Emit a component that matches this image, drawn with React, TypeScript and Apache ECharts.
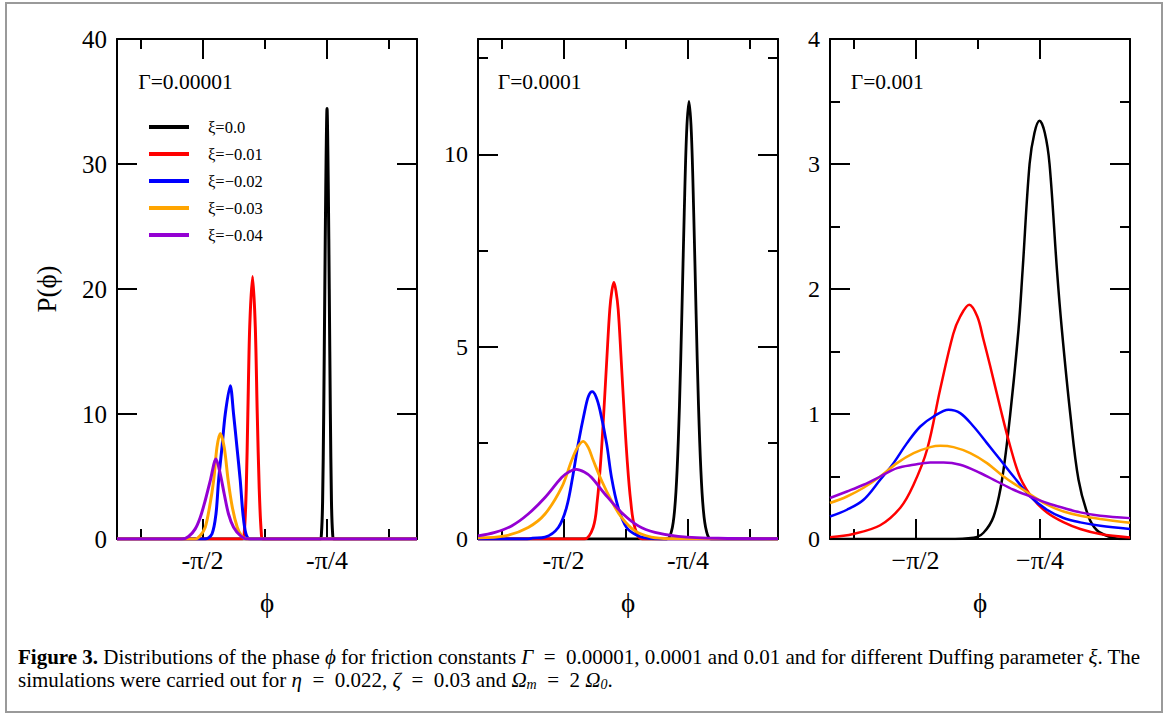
import React, { useEffect, useRef } from "react";
import * as echarts from "echarts";

const SERIF = '"Liberation Serif", "Times New Roman", Times, serif';

// x axis range (radians) shared by all three panels
const X_MIN = -2.111;
const X_MAX = -0.217;
const xMajorTicks = [-Math.PI / 2, -Math.PI / 4];
const xMinorTicksP12 = [(-5 * Math.PI) / 8, (-3 * Math.PI) / 8, -Math.PI / 8];
const xMinorTicksP3 = [(-5 * Math.PI) / 8, (-3 * Math.PI) / 8];
const xTickLabelsP12 = ["-π/2", "-π/4"];
const xTickLabelsP3 = ["−π/2", "−π/4"];

const yMax = [40, 13, 4];
const yMajorTicks = [[0, 10, 20, 30, 40], [0, 5, 10], [0, 1, 2, 3, 4]];
const yMinorTicks = [[], [2.5, 7.5, 12.5], [0.5, 1.5, 2.5, 3.5]];

const gammaLabels = ["Γ=0.00001", "Γ=0.0001", "Γ=0.001"];
const seriesNames = ["ξ=0.0", "ξ=−0.01", "ξ=−0.02", "ξ=−0.03", "ξ=−0.04"];
const seriesColors = ["#000000", "#ff0000", "#0000ff", "#ffa500", "#9400d3"];

// ---------- Panel 1 : Γ = 0.00001 ----------
const p1Black = [[-2.111, 0], [-0.829, 0], [-0.82, 0.5], [-0.813, 3], [-0.806, 10], [-0.799, 20], [-0.793, 28], [-0.785, 34.45], [-0.777, 28], [-0.771, 20], [-0.764, 10], [-0.757, 3], [-0.75, 0.5], [-0.741, 0], [-0.217, 0]];
const p1Red = [[-2.111, 0], [-1.32, 0], [-1.3075, 0.5], [-1.295, 4], [-1.285, 10], [-1.273, 17], [-1.255, 21], [-1.238, 17], [-1.2255, 10], [-1.213, 4], [-1.2, 0.5], [-1.188, 0], [-0.217, 0]];
const p1Blue = [[-2.111, 0], [-1.554, 0], [-1.5115, 0.4], [-1.4862, 2.0], [-1.4698, 4.67], [-1.4483, 7.33], [-1.4275, 10], [-1.3959, 12.26], [-1.3751, 10], [-1.3536, 7.33], [-1.3328, 4.67], [-1.3158, 2.0], [-1.2968, 0.4], [-1.27, 0], [-0.217, 0]];
const p1Orange = [[-2.111, 0], [-1.617, 0], [-1.585, 0.28], [-1.554, 0.94], [-1.527, 2.54], [-1.501, 4.67], [-1.48, 7.33], [-1.459, 8.45], [-1.434, 7.33], [-1.409, 4.67], [-1.383, 2.54], [-1.352, 0.94], [-1.326, 0.28], [-1.295, 0], [-0.217, 0]];
const p1Purple = [[-2.111, 0], [-1.701, 0], [-1.659, 0.2], [-1.617, 0.81], [-1.585, 1.74], [-1.554, 3.08], [-1.522, 4.67], [-1.486, 6.41], [-1.459, 5.2], [-1.434, 3.6], [-1.407, 2.0], [-1.375, 0.94], [-1.333, 0.28], [-1.291, 0], [-0.217, 0]];

// ---------- Panel 2 : Γ = 0.0001 ----------
const p2Black = [[-2.111, 0], [-0.92, 0], [-0.889, 0.21], [-0.869, 0.79], [-0.854, 1.79], [-0.839, 3.48], [-0.824, 5.85], [-0.809, 8.46], [-0.794, 10.57], [-0.779, 11.38], [-0.764, 10.57], [-0.749, 8.46], [-0.734, 5.85], [-0.719, 3.48], [-0.704, 1.79], [-0.689, 0.79], [-0.669, 0.21], [-0.64, 0], [-0.217, 0]];
const p2Red = [[-2.111, 0], [-1.44, 0], [-1.384, 0.3], [-1.358, 0.99], [-1.336, 2.04], [-1.316, 3.35], [-1.298, 4.66], [-1.279, 5.97], [-1.266, 6.45], [-1.253, 6.67], [-1.24, 6.45], [-1.226, 5.97], [-1.207, 4.66], [-1.189, 3.35], [-1.169, 2.04], [-1.147, 0.99], [-1.121, 0.3], [-1.074, 0], [-0.217, 0]];
const p2Blue = [[-2.111, 0], [-1.8, 0], [-1.768, 0.02], [-1.688, 0.05], [-1.604, 0.3], [-1.552, 0.82], [-1.514, 1.6], [-1.478, 2.48], [-1.436, 3.35], [-1.413, 3.72], [-1.39, 3.83], [-1.366, 3.7], [-1.341, 3.35], [-1.299, 2.48], [-1.268, 1.6], [-1.226, 0.82], [-1.173, 0.3], [-1.099, 0.08], [-1.017, 0.01], [-0.95, 0], [-0.217, 0]];
const p2Orange = [[-2.111, 0.03], [-1.939, 0.08], [-1.794, 0.3], [-1.688, 0.65], [-1.583, 1.34], [-1.52, 2.04], [-1.483, 2.38], [-1.447, 2.54], [-1.415, 2.38], [-1.383, 2.04], [-1.331, 1.52], [-1.268, 0.99], [-1.205, 0.56], [-1.12, 0.21], [-1.017, 0.05], [-0.9, 0.01], [-0.217, 0]];
const p2Purple = [[-2.111, 0.08], [-2.004, 0.17], [-1.899, 0.34], [-1.794, 0.65], [-1.688, 1.08], [-1.583, 1.6], [-1.535, 1.75], [-1.489, 1.81], [-1.44, 1.74], [-1.394, 1.6], [-1.31, 1.17], [-1.205, 0.69], [-1.099, 0.34], [-0.994, 0.17], [-0.847, 0.07], [-0.594, 0.02], [-0.217, 0.01]];

// ---------- Panel 3 : Γ = 0.001 ----------
const p3Black = [[-2.111, 0], [-1.373, 0], [-1.205, 0.01], [-1.142, 0.05], [-1.078, 0.18], [-1.025, 0.474], [-0.973, 1.0], [-0.921, 1.673], [-0.895, 2.15], [-0.851, 3.0], [-0.82, 3.25], [-0.788, 3.346], [-0.755, 3.25], [-0.725, 3.0], [-0.678, 2.15], [-0.647, 1.673], [-0.594, 1.0], [-0.542, 0.474], [-0.479, 0.18], [-0.426, 0.07], [-0.352, 0.02], [-0.278, 0], [-0.217, 0]];
const p3Red = [[-2.111, 0.015], [-1.964, 0.04], [-1.794, 0.11], [-1.667, 0.25], [-1.585, 0.43], [-1.497, 0.72], [-1.415, 1.2], [-1.333, 1.64], [-1.289, 1.78], [-1.232, 1.875], [-1.181, 1.78], [-1.143, 1.6], [-1.099, 1.38], [-1.036, 1.05], [-0.973, 0.74], [-0.91, 0.49], [-0.828, 0.32], [-0.739, 0.21], [-0.638, 0.135], [-0.531, 0.08], [-0.405, 0.04], [-0.217, 0.012]];
const p3Blue = [[-2.111, 0.18], [-2.004, 0.234], [-1.899, 0.314], [-1.794, 0.474], [-1.71, 0.607], [-1.625, 0.767], [-1.541, 0.9], [-1.457, 0.98], [-1.3625, 1.034], [-1.289, 1.007], [-1.2046, 0.9], [-1.12, 0.767], [-1.036, 0.634], [-0.9521, 0.5], [-0.8467, 0.34], [-0.7413, 0.234], [-0.6365, 0.168], [-0.531, 0.133], [-0.405, 0.106], [-0.217, 0.08]];
const p3Orange = [[-2.111, 0.288], [-2.004, 0.34], [-1.899, 0.41], [-1.794, 0.5], [-1.688, 0.607], [-1.583, 0.687], [-1.478, 0.735], [-1.415, 0.746], [-1.331, 0.735], [-1.2255, 0.687], [-1.12, 0.607], [-1.0152, 0.5], [-0.9098, 0.41], [-0.8258, 0.34], [-0.7413, 0.274], [-0.6365, 0.22], [-0.531, 0.186], [-0.405, 0.16], [-0.217, 0.13]];
const p3Purple = [[-2.111, 0.328], [-2.004, 0.38], [-1.899, 0.434], [-1.794, 0.5], [-1.688, 0.567], [-1.583, 0.594], [-1.478, 0.613], [-1.394, 0.613], [-1.289, 0.594], [-1.1623, 0.528], [-1.0569, 0.46], [-0.9521, 0.394], [-0.8467, 0.34], [-0.7413, 0.288], [-0.6365, 0.248], [-0.531, 0.213], [-0.405, 0.186], [-0.217, 0.167]];

const panelData = [
  [p1Black, p1Red, p1Blue, p1Orange, p1Purple],
  [p2Black, p2Red, p2Blue, p2Orange, p2Purple],
  [p3Black, p3Red, p3Blue, p3Orange, p3Purple],
];

const EQ = "\u2002=\u2002";
const captionLine1 =
  "{b|Figure 3.} Distributions of the phase {i|ϕ} for friction constants {i|Γ}" + EQ +
  "0.00001, 0.0001 and 0.01 and for different Duffing parameter {i|ξ}. The";
const captionLine2 =
  "simulations were carried out for {i|η}" + EQ + "0.022, {i|ζ}" + EQ + "0.03 and {i|Ω}{s|m}" + EQ + "2 {i|Ω}{s|0}.";

function buildOption() {
  const gridLefts = [117, 478, 830];
  const gridTop = 39;
  const gridW = 300;
  const gridH = 500;
  const lineWidths = [3, 2.8, 2.5];
  const smoothness = [0.3, 0.35, 0.35];
  const yLabelSize = [25, 24, 24];

  const axisLine = { show: true, onZero: false, lineStyle: { color: "#000", width: 2 } };
  const noLine = { show: false, onZero: false };
  const tickStyle = { color: "#000", width: 2 };

  const grid: any[] = [];
  const xAxis: any[] = [];
  const yAxis: any[] = [];
  const series: any[] = [];

  for (let i = 0; i < 3; i++) {
    grid.push({
      left: gridLefts[i],
      top: gridTop,
      width: gridW,
      height: gridH,
      containLabel: false,
      outerBoundsMode: "none",
    });
    const labels = i === 2 ? xTickLabelsP3 : xTickLabelsP12;
    const minors = i === 2 ? xMinorTicksP3 : xMinorTicksP12;
    const xFmt = (v: number) => {
      const k = xMajorTicks.findIndex((t) => Math.abs(t - v) < 1e-6);
      return k >= 0 ? labels[k] : "";
    };
    const xBase = {
      type: "value",
      gridIndex: i,
      min: X_MIN,
      max: X_MAX,
      splitLine: { show: false },
      splitArea: { show: false },
    };
    xAxis.push(
      {
        ...xBase,
        position: "bottom",
        axisLine,
        axisTick: { show: true, inside: true, length: 20, lineStyle: tickStyle, customValues: xMajorTicks },
        axisLabel: {
          show: true,
          customValues: xMajorTicks,
          formatter: xFmt,
          color: "#000",
          fontFamily: SERIF,
          fontSize: 26,
          margin: 8,
        },
        name: "ϕ",
        nameLocation: "middle",
        nameGap: 50,
        nameTextStyle: { fontFamily: SERIF, fontSize: 27, color: "#000" },
      },
      {
        ...xBase,
        position: "bottom",
        axisLine: noLine,
        axisTick: { show: true, inside: true, length: 10, lineStyle: tickStyle, customValues: minors },
        axisLabel: { show: false },
      },
      {
        ...xBase,
        position: "top",
        axisLine,
        axisTick: { show: true, inside: true, length: 20, lineStyle: tickStyle, customValues: xMajorTicks },
        axisLabel: { show: false },
      },
      {
        ...xBase,
        position: "top",
        axisLine: noLine,
        axisTick: { show: true, inside: true, length: 10, lineStyle: tickStyle, customValues: minors },
        axisLabel: { show: false },
      }
    );

    const yBase = {
      type: "value",
      gridIndex: i,
      min: 0,
      max: yMax[i],
      splitLine: { show: false },
      splitArea: { show: false },
    };
    const hasMinor = yMinorTicks[i].length > 0;
    const leftMajor: any = {
      ...yBase,
      position: "left",
      axisLine,
      axisTick: { show: true, inside: true, length: 20, lineStyle: tickStyle, customValues: yMajorTicks[i] },
      axisLabel: {
        show: true,
        customValues: yMajorTicks[i],
        color: "#000",
        fontFamily: SERIF,
        fontSize: yLabelSize[i],
        margin: 10,
      },
    };
    if (i === 0) {
      leftMajor.name = "P(ϕ)";
      leftMajor.nameLocation = "middle";
      leftMajor.nameGap = 57;
      leftMajor.nameTextStyle = { fontFamily: SERIF, fontSize: 27, color: "#000" };
    }
    yAxis.push(
      leftMajor,
      {
        ...yBase,
        position: "left",
        axisLine: noLine,
        axisTick: hasMinor
          ? { show: true, inside: true, length: 10, lineStyle: tickStyle, customValues: yMinorTicks[i] }
          : { show: false },
        axisLabel: { show: false },
      },
      {
        ...yBase,
        position: "right",
        axisLine,
        axisTick: { show: true, inside: true, length: 20, lineStyle: tickStyle, customValues: yMajorTicks[i] },
        axisLabel: { show: false },
      },
      {
        ...yBase,
        position: "right",
        axisLine: noLine,
        axisTick: hasMinor
          ? { show: true, inside: true, length: 10, lineStyle: tickStyle, customValues: yMinorTicks[i] }
          : { show: false },
        axisLabel: { show: false },
      }
    );

    panelData[i].forEach((data, s) => {
      series.push({
        type: "line",
        name: seriesNames[s],
        xAxisIndex: 4 * i,
        yAxisIndex: 4 * i,
        data,
        showSymbol: false,
        symbol: "none",
        smooth: smoothness[i],
        clip: true,
        silent: true,
        color: seriesColors[s],
        lineStyle: { color: seriesColors[s], width: lineWidths[i], join: "round" },
        itemStyle: { color: seriesColors[s] },
        z: 3,
      });
    });
  }

  const gammaX = [138.3, 497.7, 850.7];
  const capFont = 21;
  const rich = {
    b: { fontFamily: SERIF, fontSize: capFont, fontWeight: "bold", fill: "#000" },
    i: { fontFamily: SERIF, fontSize: capFont, fontStyle: "italic", fill: "#000" },
    s: { fontFamily: SERIF, fontSize: 14, fontStyle: "italic", fill: "#000", padding: [9, 0, 0, 0] },
  };

  const graphic: any[] = [
    {
      type: "rect",
      shape: { x: 6, y: 3, width: 1156, height: 709 },
      style: { fill: "none", stroke: "#9a9a9a", lineWidth: 2 },
      silent: true,
      z: -10,
    },
    ...gammaLabels.map((t, k) => ({
      type: "text",
      x: gammaX[k],
      y: 82,
      style: {
        text: t,
        fontFamily: SERIF,
        fontSize: 21.5,
        fill: "#000",
        align: "left",
        verticalAlign: "middle",
      },
      silent: true,
    })),
    {
      type: "text",
      x: 18,
      y: 657,
      style: {
        text: captionLine1,
        rich,
        fontFamily: SERIF,
        fontSize: capFont,
        fill: "#000",
        align: "left",
        verticalAlign: "middle",
      },
      silent: true,
    },
    {
      type: "text",
      x: 18,
      y: 680,
      style: {
        text: captionLine2,
        rich,
        fontFamily: SERIF,
        fontSize: capFont,
        fill: "#000",
        align: "left",
        verticalAlign: "middle",
      },
      silent: true,
    },
  ];

  return {
    animation: false,
    backgroundColor: "#ffffff",
    grid,
    xAxis,
    yAxis,
    series,
    legend: {
      show: true,
      orient: "vertical",
      left: 149,
      top: 118.5,
      padding: 0,
      itemWidth: 40,
      itemHeight: 4,
      itemGap: 10,
      icon: "rect",
      selectedMode: false,
      data: seriesNames,
      textStyle: {
        fontFamily: SERIF,
        fontSize: 16.5,
        lineHeight: 17,
        color: "#000",
        padding: [0, 0, 0, 14],
      },
    },
    graphic,
  };
}

export default function App() {
  const ref = useRef<HTMLDivElement>(null);
  useEffect(() => {
    if (!ref.current) return;
    const chart = echarts.init(ref.current, null, { renderer: "svg" });
    chart.setOption(buildOption() as any);
    return () => {
      chart.dispose();
    };
  }, []);
  return (
    <div
      ref={ref}
      style={{ position: "fixed", left: 0, top: 0, width: 1166, height: 715, background: "#fff" }}
    />
  );
}
